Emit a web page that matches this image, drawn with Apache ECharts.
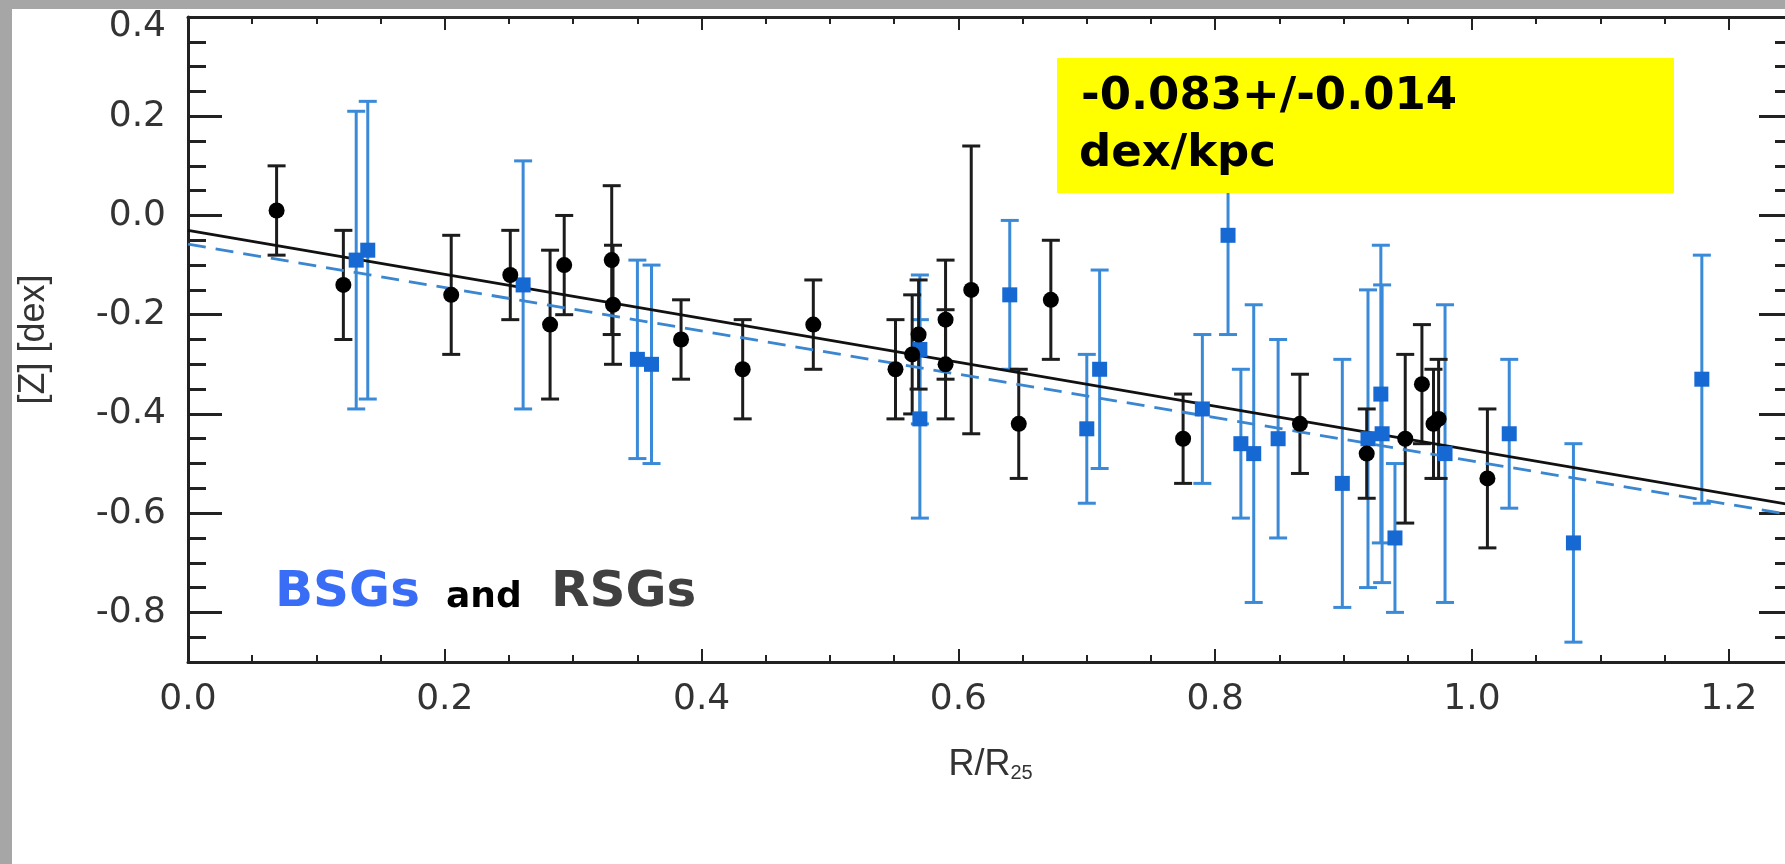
<!DOCTYPE html>
<html><head><meta charset="utf-8">
<script src="https://cdn.jsdelivr.net/npm/echarts@6/dist/echarts.min.js"></script>
<style>
html,body{margin:0;padding:0;width:1785px;height:864px;overflow:hidden;background:#a6a6a6;}
#c{position:absolute;left:12px;top:9px;width:1781px;height:855px;background:#ffffff;}
</style></head><body><div id="c"></div>
<script>
// ---- axis ranges & ticks ----
const xRange = [0, 1.25];
const yRange = [-0.9, 0.4];
const xTickLabels = [0, 0.2, 0.4, 0.6, 0.8, 1.0, 1.2];
const xMinorTicks = [0.05,0.1,0.15,0.25,0.3,0.35,0.45,0.5,0.55,0.65,0.7,0.75,0.85,0.9,0.95,1.05,1.1,1.15];
const yTickLabels = [-0.8, -0.6, -0.4, -0.2, 0, 0.2, 0.4];
const yMinorTicks = [-0.85,-0.75,-0.7,-0.65,-0.55,-0.5,-0.45,-0.35,-0.3,-0.25,-0.15,-0.1,-0.05,0.05,0.1,0.15,0.25,0.3,0.35];

// ---- RSGs (black circles) ----
const rsgR   = [0.069, 0.121, 0.205, 0.251, 0.282, 0.293, 0.330, 0.331, 0.384, 0.432, 0.487, 0.551, 0.564, 0.569, 0.590, 0.590, 0.610, 0.647, 0.672, 0.775, 0.866, 0.918, 0.948, 0.961, 0.970, 0.974, 1.012];
const rsgZ   = [0.01, -0.14, -0.16, -0.12, -0.22, -0.10, -0.09, -0.18, -0.25, -0.31, -0.22, -0.31, -0.28, -0.24, -0.21, -0.30, -0.15, -0.42, -0.17, -0.45, -0.42, -0.48, -0.45, -0.34, -0.42, -0.41, -0.53];
const rsgErr = [0.09, 0.11, 0.12, 0.09, 0.15, 0.10, 0.15, 0.12, 0.08, 0.10, 0.09, 0.10, 0.12, 0.11, 0.12, 0.11, 0.29, 0.11, 0.12, 0.09, 0.10, 0.09, 0.17, 0.12, 0.11, 0.12, 0.14];

// ---- BSGs (blue squares) ----
const bsgR   = [0.131, 0.140, 0.261, 0.350, 0.361, 0.570, 0.570, 0.640, 0.700, 0.710, 0.790, 0.810, 0.820, 0.830, 0.849, 0.899, 0.919, 0.929, 0.930, 0.940, 0.979, 1.029, 1.079, 1.179];
const bsgZ   = [-0.09, -0.07, -0.14, -0.29, -0.30, -0.27, -0.41, -0.16, -0.43, -0.31, -0.39, -0.04, -0.46, -0.48, -0.45, -0.54, -0.45, -0.36, -0.44, -0.65, -0.48, -0.44, -0.66, -0.33];
const bsgErr = [0.30, 0.30, 0.25, 0.20, 0.20, 0.15, 0.20, 0.15, 0.15, 0.20, 0.15, 0.20, 0.15, 0.30, 0.20, 0.25, 0.30, 0.30, 0.30, 0.15, 0.30, 0.15, 0.20, 0.25];

// ---- gradient fits (end points) ----
const fitAllR = [0, 1.25];
const fitAllZ = [-0.030, -0.584];
const fitBsgR = [0, 1.25];
const fitBsgZ = [-0.058, -0.604];

const gradientText = ['-0.083+/-0.014', 'dex/kpc'];

// ---- build ----
const rsgData = rsgR.map((r, i) => [r, rsgZ[i], rsgErr[i]]);
const bsgData = bsgR.map((r, i) => [r, bsgZ[i], bsgErr[i]]);
const fitAll = fitAllR.map((r, i) => [r, fitAllZ[i]]);
const fitBsg = fitBsgR.map((r, i) => [r, fitBsgZ[i]]);

const AX = '#222';
const LBL = '#333';
const tickFont = 'DejaVu Sans';
const titleFont = 'Liberation Sans, Arial, sans-serif';
const comic = "'Comic Sans MS', 'DejaVu Sans', sans-serif";

function errRender(color, cap, w) {
  return function (params, api) {
    const x = api.value(0), y = api.value(1), e = api.value(2);
    const t = api.coord([x, y + e]), b = api.coord([x, y - e]);
    const st = { stroke: color, lineWidth: w };
    return { type: 'group', children: [
      { type: 'line', shape: { x1: t[0], y1: t[1], x2: b[0], y2: b[1] }, style: st },
      { type: 'line', shape: { x1: t[0] - cap, y1: t[1], x2: t[0] + cap, y2: t[1] }, style: st },
      { type: 'line', shape: { x1: b[0] - cap, y1: b[1], x2: b[0] + cap, y2: b[1] }, style: st }
    ]};
  };
}

function baseAxis(extra) {
  return Object.assign({
    type: 'value', gridIndex: 0,
    splitLine: { show: false },
    axisLine: { show: false, onZero: false },
    axisLabel: { show: false }
  }, extra);
}

const fmt = v => v.toFixed(1);

const option = {
  backgroundColor: '#ffffff',
  animation: false,
  grid: { left: 176, right: 0, top: 8, bottom: 202, containLabel: false, outerBoundsMode: 'none' },
  xAxis: [
    baseAxis({
      position: 'bottom', min: xRange[0], max: xRange[1],
      axisLine: { show: true, onZero: false, lineStyle: { color: AX, width: 3 } },
      axisTick: { show: true, inside: true, length: 13, customValues: xTickLabels, lineStyle: { color: AX, width: 2 } },
      axisLabel: { show: true, customValues: xTickLabels, formatter: fmt, margin: 20, fontSize: 36, fontFamily: tickFont, color: LBL },
      name: '{m|R/R}{s|25}', nameLocation: 'middle', nameGap: 85,
      nameTextStyle: { rich: {
        m: { fontSize: 36, lineHeight: 36, fontFamily: titleFont, color: LBL },
        s: { fontSize: 20, lineHeight: 14, verticalAlign: 'bottom', fontFamily: titleFont, color: LBL }
      } }
    }),
    baseAxis({ position: 'bottom', min: xRange[0], max: xRange[1],
      axisTick: { show: true, inside: true, length: 7, customValues: xMinorTicks, lineStyle: { color: AX, width: 2 } } }),
    baseAxis({ position: 'top', min: xRange[0], max: xRange[1],
      axisLine: { show: true, onZero: false, lineStyle: { color: AX, width: 3 } },
      axisTick: { show: true, inside: true, length: 13, customValues: xTickLabels, lineStyle: { color: AX, width: 2 } } }),
    baseAxis({ position: 'top', min: xRange[0], max: xRange[1],
      axisTick: { show: true, inside: true, length: 7, customValues: xMinorTicks, lineStyle: { color: AX, width: 2 } } })
  ],
  yAxis: [
    baseAxis({
      position: 'left', min: yRange[0], max: yRange[1],
      axisLine: { show: true, onZero: false, lineStyle: { color: AX, width: 3 } },
      axisTick: { show: true, inside: true, length: 34, customValues: yTickLabels, lineStyle: { color: AX, width: 3 } },
      axisLabel: { show: true, customValues: yTickLabels, margin: 22, fontSize: 36, fontFamily: tickFont, color: LBL,
        formatter: v => (v === 0.4 ? '{t|' + fmt(v) + '}' : fmt(v)),
        rich: { t: { padding: [20, 0, 0, 0], fontSize: 36, fontFamily: tickFont, color: LBL } } },
      name: '[Z] [dex]', nameLocation: 'middle', nameGap: 136,
      nameTextStyle: { fontSize: 36, fontFamily: titleFont, color: LBL }
    }),
    baseAxis({ position: 'left', min: yRange[0], max: yRange[1],
      axisTick: { show: true, inside: true, length: 18, customValues: yMinorTicks, lineStyle: { color: AX, width: 3 } } }),
    baseAxis({ position: 'right', min: yRange[0], max: yRange[1],
      axisLine: { show: true, onZero: false, lineStyle: { color: AX, width: 3 } },
      axisTick: { show: true, inside: true, length: 34, customValues: yTickLabels, lineStyle: { color: AX, width: 3 } } }),
    baseAxis({ position: 'right', min: yRange[0], max: yRange[1],
      axisTick: { show: true, inside: true, length: 18, customValues: yMinorTicks, lineStyle: { color: AX, width: 3 } } })
  ],
  series: [
    { type: 'custom', name: 'BSG err', data: bsgData, encode: { x: 0, y: 1 }, renderItem: errRender('#3a8ad8', 9, 3), silent: true, z: 2 },
    { type: 'custom', name: 'RSG err', data: rsgData, encode: { x: 0, y: 1 }, renderItem: errRender('#1c1c1c', 9, 3), silent: true, z: 2 },
    { type: 'line', name: 'fit all', data: fitAll, symbol: 'none', lineStyle: { color: '#111', width: 2.8 }, z: 3, silent: true },
    { type: 'line', name: 'fit BSG', data: fitBsg, symbol: 'none', lineStyle: { color: '#3a86d0', width: 2.8, type: [18, 10] }, z: 3, silent: true },
    { type: 'scatter', name: 'BSGs', data: bsgData, symbol: 'rect', symbolSize: 15, itemStyle: { color: '#1668d2', opacity: 1 }, z: 4, silent: true },
    { type: 'scatter', name: 'RSGs', data: rsgData, symbol: 'circle', symbolSize: 16, itemStyle: { color: '#000', opacity: 1 }, z: 4, silent: true }
  ],
  graphic: [
    { type: 'rect', z: 100, shape: { x: 1045, y: 49, width: 617, height: 135 }, style: { fill: '#ffff00' } },
    { type: 'text', z: 101, x: 1069, y: 88, style: { text: gradientText[0], fill: '#000', fontSize: 45, fontWeight: 'bold', fontFamily: comic, align: 'left', verticalAlign: 'middle' } },
    { type: 'text', z: 101, x: 1067, y: 145, style: { text: gradientText[1], fill: '#000', fontSize: 45, fontWeight: 'bold', fontFamily: comic, align: 'left', verticalAlign: 'middle' } },
    { type: 'text', z: 101, x: 263, y: 584, style: { text: 'BSGs', fill: '#3a6df5', fontSize: 50, fontWeight: 'bold', fontFamily: comic, align: 'left', verticalAlign: 'middle' } },
    { type: 'text', z: 101, x: 434, y: 589, style: { text: 'and', fill: '#000', fontSize: 36, fontWeight: 'bold', fontFamily: comic, align: 'left', verticalAlign: 'middle' } },
    { type: 'text', z: 101, x: 539, y: 584, style: { text: 'RSGs', fill: '#404040', fontSize: 50, fontWeight: 'bold', fontFamily: comic, align: 'left', verticalAlign: 'middle' } }
  ]
};

const chart = echarts.init(document.getElementById('c'), null, { renderer: 'canvas' });
chart.setOption(option);
</script></body></html>
